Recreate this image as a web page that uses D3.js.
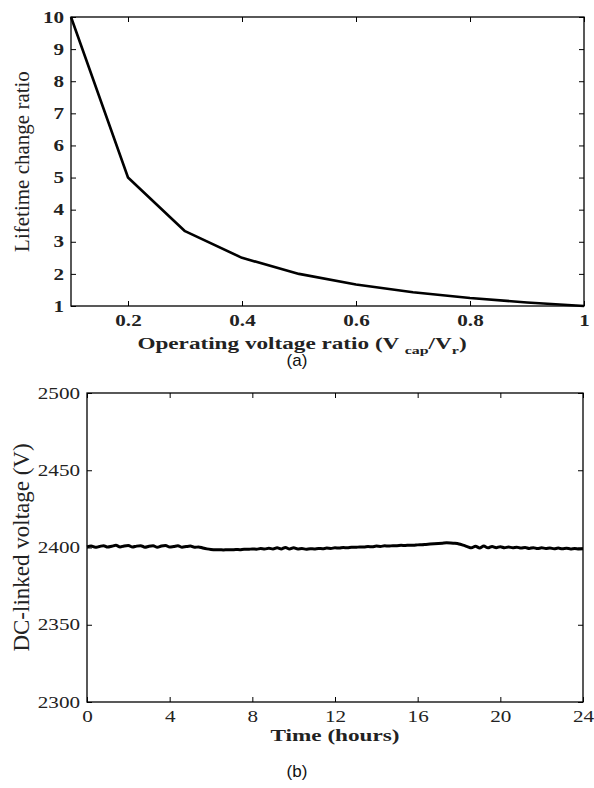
<!DOCTYPE html>
<html>
<head>
<meta charset="utf-8">
<script src="https://cdn.jsdelivr.net/npm/d3@7"></script>
<style>
  body { margin: 0; background: #fff; }
  svg { display: block; }
</style>
</head>
<body>
<script>
// (a) lifetime change ratio vs operating voltage ratio
var voltRatio = [0.1, 0.2, 0.3, 0.4, 0.5, 0.6, 0.7, 0.8, 0.9, 1.0];
var lifeRatio = [10, 5, 3.33, 2.5, 2, 1.67, 1.43, 1.25, 1.11, 1];
var xTicksA = [0.2, 0.4, 0.6, 0.8, 1];
var yTicksA = [1, 2, 3, 4, 5, 6, 7, 8, 9, 10];

// (b) DC-linked voltage over 24 hours, one sample every 0.2 h
var dcVoltage = [
  2400.4, 2400.9, 2400.1, 2400.6, 2401.2, 2400.3, 2400.8, 2401.4, 2400.4, 2401.0,
  2401.3, 2400.3, 2400.9, 2401.2, 2400.2, 2400.8, 2401.1, 2400.2, 2401.0, 2401.3,
  2400.3, 2400.7, 2401.1, 2400.2, 2400.6, 2400.9, 2400.1, 2400.4, 2399.7, 2399.1,
  2398.7, 2398.5, 2398.6, 2398.4, 2398.6, 2398.5, 2398.7, 2398.6, 2398.9, 2398.8,
  2399.1, 2398.9, 2399.3, 2399.0, 2399.5, 2399.0, 2399.8, 2399.1, 2400.0, 2399.0,
  2399.8, 2399.0, 2399.3, 2398.9, 2399.2, 2399.1, 2399.4, 2399.2, 2399.6, 2399.4,
  2399.8, 2399.6, 2400.0, 2399.8, 2400.2, 2400.1, 2400.4, 2400.3, 2400.6, 2400.5,
  2400.9, 2400.7, 2401.1, 2400.9, 2401.2, 2401.2, 2401.4, 2401.3, 2401.5, 2401.4,
  2401.7, 2401.8, 2402.0, 2402.2, 2402.4, 2402.6, 2402.8, 2403.0, 2402.9, 2402.7,
  2402.3, 2401.5, 2400.6, 2399.8, 2400.8, 2399.7, 2400.9, 2399.8, 2400.7, 2399.9,
  2400.5, 2399.8, 2400.3, 2399.9, 2400.2, 2399.6, 2400.0, 2399.4, 2399.9, 2399.3,
  2399.8, 2399.4, 2399.7, 2399.2, 2399.6, 2399.2, 2399.5, 2399.1, 2399.4, 2399.1,
  2399.2
];
var hoursEnd = 24;
var xTicksB = [0, 4, 8, 12, 16, 20, 24];
var yTicksB = [2300, 2350, 2400, 2450, 2500];

var W = 594, H = 788;
var serif = "'Liberation Serif', 'Times New Roman', serif";
var stretch = 1.32;    // tick text in the original is stretched sideways
var labStretch = 1.45; // and the axis titles a bit more

var svg = d3.select("body").append("svg")
  .attr("width", W)
  .attr("height", H);

svg.append("rect").attr("width", W).attr("height", H).attr("fill", "#fff");

function styleAxis(g, bold) {
  g.select(".domain").remove();
  g.selectAll(".tick line").attr("stroke", "#000").attr("stroke-width", 1);
  g.selectAll("text")
    .attr("fill", "#222")
    .style("font-family", serif)
    .style("font-size", "16px")
    .style("font-weight", bold ? "bold" : "normal");
}

function drawFrame(x, y, xt, yt, bold, xfmt) {
  var x0 = x.range()[0], x1 = x.range()[1];
  var y0 = y.range()[0], y1 = y.range()[1];

  // inward ticks on all four sides
  var gb = svg.append("g").attr("transform", "translate(0," + y0 + ")")
    .call(d3.axisBottom(x).tickValues(xt).tickSize(-5).tickPadding(9).tickFormat(xfmt));
  styleAxis(gb, bold);
  gb.selectAll("text").attr("transform", "scale(" + stretch + ",1)");

  var gt = svg.append("g").attr("transform", "translate(0," + y1 + ")")
    .call(d3.axisTop(x).tickValues(xt).tickSize(-5).tickFormat(""));
  styleAxis(gt, bold);

  var gl = svg.append("g").attr("transform", "translate(" + x0 + ",0)")
    .call(d3.axisLeft(y).tickValues(yt).tickSize(-5).tickPadding(0).tickFormat(d3.format("d")));
  styleAxis(gl, bold);
  gl.selectAll("text")
    .attr("x", -7 / stretch)
    .attr("transform", "scale(" + stretch + ",1)");

  var gr = svg.append("g").attr("transform", "translate(" + x1 + ",0)")
    .call(d3.axisRight(y).tickValues(yt).tickSize(-5).tickFormat(""));
  styleAxis(gr, bold);

  svg.append("rect")
    .attr("x", x0).attr("y", y1)
    .attr("width", x1 - x0).attr("height", y0 - y1)
    .attr("fill", "none")
    .attr("stroke", "#000")
    .attr("stroke-width", 1.3);
}

// ---------- (a) ----------
var xa = d3.scaleLinear().domain([0.1, 1]).range([71, 584]);
var ya = d3.scaleLinear().domain([1, 10]).range([306, 17]);

drawFrame(xa, ya, xTicksA, yTicksA, true, function (d) { return d === 1 ? "1" : d3.format(".1f")(d); });

var lineA = d3.line()
  .x(function (d, i) { return xa(voltRatio[i]); })
  .y(function (d) { return ya(d); });

svg.append("path")
  .attr("d", lineA(lifeRatio))
  .attr("fill", "none")
  .attr("stroke", "#000")
  .attr("stroke-width", 2.6)
  .attr("stroke-linejoin", "round");

// x label with subscripts
var xlabA = svg.append("text")
  .attr("transform", "translate(302,349) scale(" + labStretch + ",1)")
  .attr("text-anchor", "middle")
  .attr("fill", "#222")
  .style("font-family", serif)
  .style("font-size", "16px")
  .style("font-weight", "bold");
xlabA.append("tspan").text("Operating voltage ratio (V ");
xlabA.append("tspan").attr("dy", 5).style("font-size", "11px").text("cap");
xlabA.append("tspan").attr("dy", -5).text("/V");
xlabA.append("tspan").attr("dy", 5).style("font-size", "11px").text("r");
xlabA.append("tspan").attr("dy", -5).text(")");

svg.append("text")
  .attr("transform", "translate(29," + ya(5.5) + ") rotate(-90)")
  .attr("text-anchor", "middle")
  .attr("fill", "#222")
  .style("font-family", serif)
  .style("font-size", "21px")
  .text("Lifetime change ratio");

svg.append("text")
  .attr("x", 297).attr("y", 366)
  .attr("text-anchor", "middle")
  .attr("fill", "#111")
  .style("font-family", "'Liberation Sans', Arial, sans-serif")
  .style("font-size", "17px")
  .text("(a)");

// ---------- (b) ----------
var xb = d3.scaleLinear().domain([0, hoursEnd]).range([87, 583]);
var yb = d3.scaleLinear().domain([2300, 2500]).range([702, 393]);

drawFrame(xb, yb, xTicksB, yTicksB, false, d3.format("d"));

var lineB = d3.line()
  .x(function (d, i) { return xb(i * hoursEnd / (dcVoltage.length - 1)); })
  .y(function (d) { return yb(d); })
  .curve(d3.curveMonotoneX);

svg.append("path")
  .attr("d", lineB(dcVoltage))
  .attr("fill", "none")
  .attr("stroke", "#000")
  .attr("stroke-width", 3)
  .attr("stroke-linejoin", "round");

svg.append("text")
  .attr("transform", "translate(" + xb(12) + ",741) scale(" + labStretch + ",1)")
  .attr("text-anchor", "middle")
  .attr("fill", "#222")
  .style("font-family", serif)
  .style("font-size", "16px")
  .style("font-weight", "bold")
  .text("Time (hours)");

svg.append("text")
  .attr("transform", "translate(29," + yb(2400) + ") rotate(-90)")
  .attr("text-anchor", "middle")
  .attr("fill", "#222")
  .style("font-family", serif)
  .style("font-size", "23px")
  .text("DC-linked voltage (V)");

svg.append("text")
  .attr("x", 297).attr("y", 777)
  .attr("text-anchor", "middle")
  .attr("fill", "#111")
  .style("font-family", "'Liberation Sans', Arial, sans-serif")
  .style("font-size", "17px")
  .text("(b)");
</script>
</body>
</html>
